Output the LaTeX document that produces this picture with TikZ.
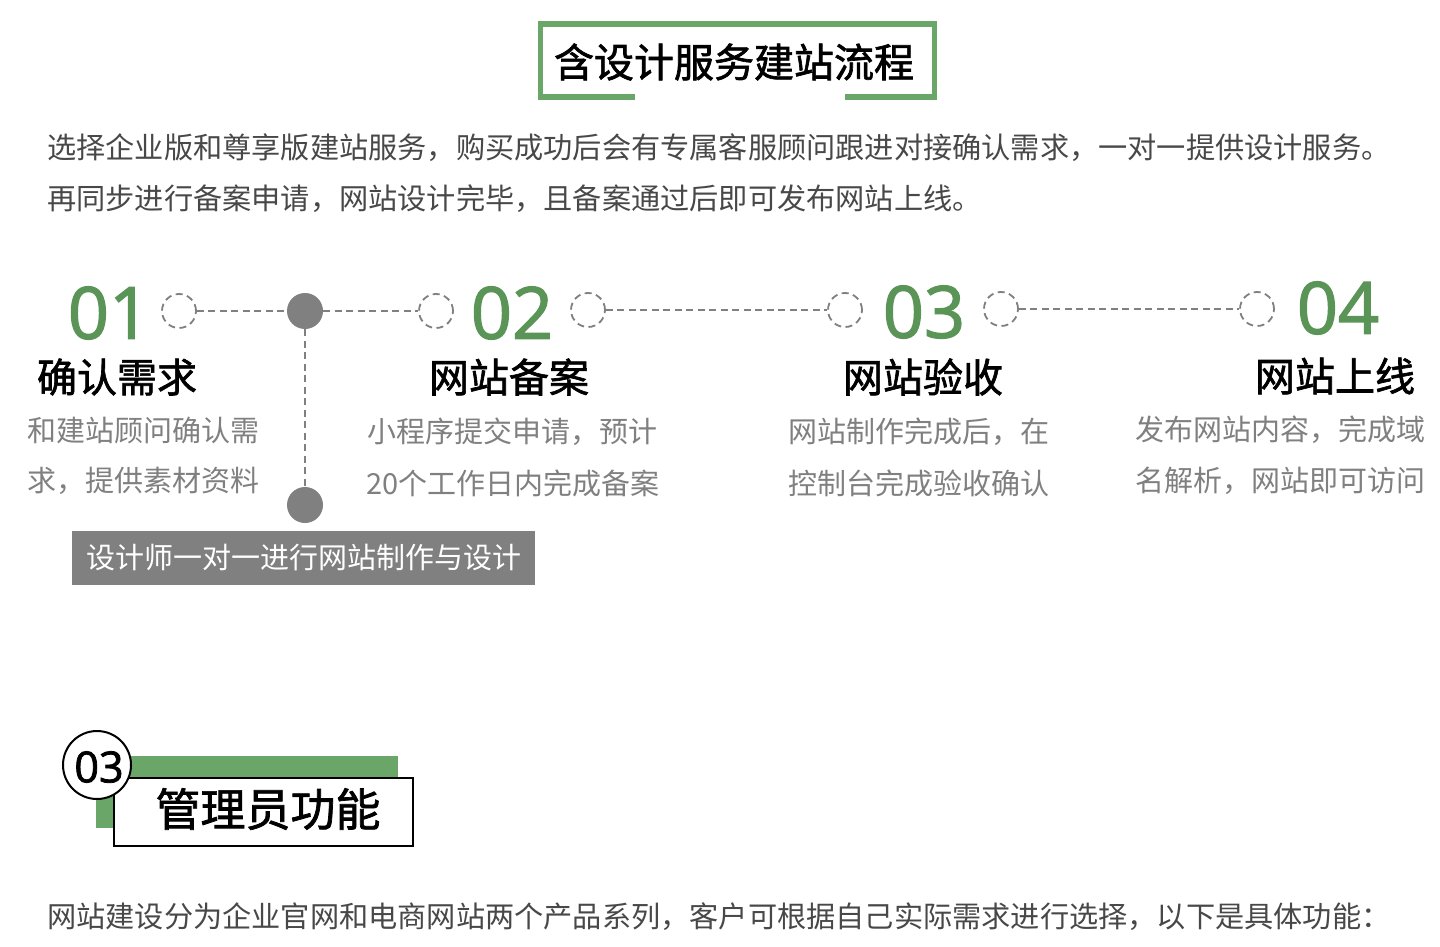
\documentclass[tikz,border=0pt]{standalone}
\usepackage{fontspec}
\setmainfont{Noto Sans CJK SC}
\newfontfamily\medfont{Noto Sans CJK SC}[FakeBold=1.6]
\newfontfamily\numfont{Open Sans}[FakeBold=1.8]
\definecolor{frameg}{RGB}{106,166,104}
\definecolor{numg}{RGB}{90,148,87}
\definecolor{dgray}{RGB}{128,128,128}
\definecolor{ptext}{RGB}{72,72,72}
\definecolor{dtext}{RGB}{128,128,128}
\newcommand{\fsz}[1]{\fontsize{#1pt}{#1pt}\selectfont}
\tikzset{
  dashcirc/.style={circle, draw=dgray, line width=1.8pt, dash pattern=on 7pt off 4.5pt, minimum size=34pt, inner sep=0pt, fill=white},
  graydot/.style={circle, fill=dgray, minimum size=36pt, inner sep=0pt},
  conn/.style={draw=dgray, line width=1.8pt, dash pattern=on 7pt off 4.5pt},
  num/.style={inner sep=0pt, text=numg, font=\numfont\fsz{72}},
  head/.style={inner sep=0pt, text=black, font=\medfont\fsz{40}},
  desc/.style={inner sep=0pt, anchor=west, text=dtext, font=\fsz{29}},
  para/.style={inner sep=0pt, anchor=west, text=ptext, font=\fsz{29.2}},
}
\begin{document}
\begin{tikzpicture}[x=1pt,y=-1pt]
\useasboundingbox[fill=white] (0,0) rectangle (1440,947);
% title frame
\draw[frameg, line width=5.5pt] (635,97) -- (540.5,97) -- (540.5,24) -- (934.5,24) -- (934.5,97) -- (845,97);
\node[inner sep=0pt, font=\medfont\fsz{40}] (title) at (734,62) {含设计服务建站流程};
% paragraph
\node[para] (p1) at (47,148) {选择企业版和尊享版建站服务，购买成功后会有专属客服顾问跟进对接确认需求，一对一提供设计服务。};
\node[para] (p2) at (47,199) {再同步进行备案申请，网站设计完毕，且备案通过后即可发布网站上线。};
% step row
\node[num] (n1) at (109,313) {01};
\node[num] (n2) at (512,313) {02};
\node[num] (n3) at (924,312) {03};
\node[num] (n4) at (1338,308) {04};
\node[dashcirc] (c1) at (179,311) {};
\node[graydot] (d1) at (305,311) {};
\node[dashcirc] (c2) at (436,311) {};
\node[dashcirc] (c3) at (588,310) {};
\node[dashcirc] (c4) at (845,310) {};
\node[dashcirc] (c5) at (1001,309) {};
\node[dashcirc] (c6) at (1257,309) {};
\node[graydot] (d2) at (305,505) {};
\draw[conn] (c1) -- (d1);
\draw[conn] (d1) -- (c2);
\draw[conn] (c3) -- (c4);
\draw[conn] (c5) -- (c6);
\draw[conn] (d1) -- (d2);
% headings
\node[head] (h1) at (117,377) {确认需求};
\node[head] (h2) at (509,377) {网站备案};
\node[head] (h3) at (923,377) {网站验收};
\node[head] (h4) at (1335,376) {网站上线};
% descriptions
\node[desc] (t1a) at (27,430) {和建站顾问确认需};
\node[desc] (t1b) at (27,481) {求，提供素材资料};
\node[desc] (t2a) at (367,432) {小程序提交申请，预计};
\node[desc] (t2b) at (366,483) {20个工作日内完成备案};
\node[desc] (t3a) at (788,432) {网站制作完成后，在};
\node[desc] (t3b) at (788,483) {控制台完成验收确认};
\node[desc] (t4a) at (1135,430) {发布网站内容，完成域};
\node[desc] (t4b) at (1135,481) {名解析，网站即可访问};
% gray banner
\node[fill=dgray, text=white, font=\fsz{29}, minimum width=463pt, minimum height=54pt, inner sep=0pt] (banner) at (303.5,558) {设计师一对一进行网站制作与设计};
% section 03
\fill[frameg] (96,756) rectangle (398,828);
\node[draw=black, line width=2pt, fill=white, minimum width=299pt, minimum height=68pt, inner sep=0pt] (sec) at (263.5,812) {};
\node[inner sep=0pt, font=\medfont\fsz{45}] (sectxt) at (268,809) {管理员功能};
\node[circle, draw=black, line width=2pt, fill=white, minimum size=68pt, inner sep=0pt] (badge) at (97,765) {};
\node[inner sep=0pt, font=\numfont\fsz{43}] (badgetxt) at (99,767) {03};
% bottom text
\node[para] (p3) at (47,917) {网站建设分为企业官网和电商网站两个产品系列，客户可根据自己实际需求进行选择，以下是具体功能：};
\end{tikzpicture}
\end{document}
